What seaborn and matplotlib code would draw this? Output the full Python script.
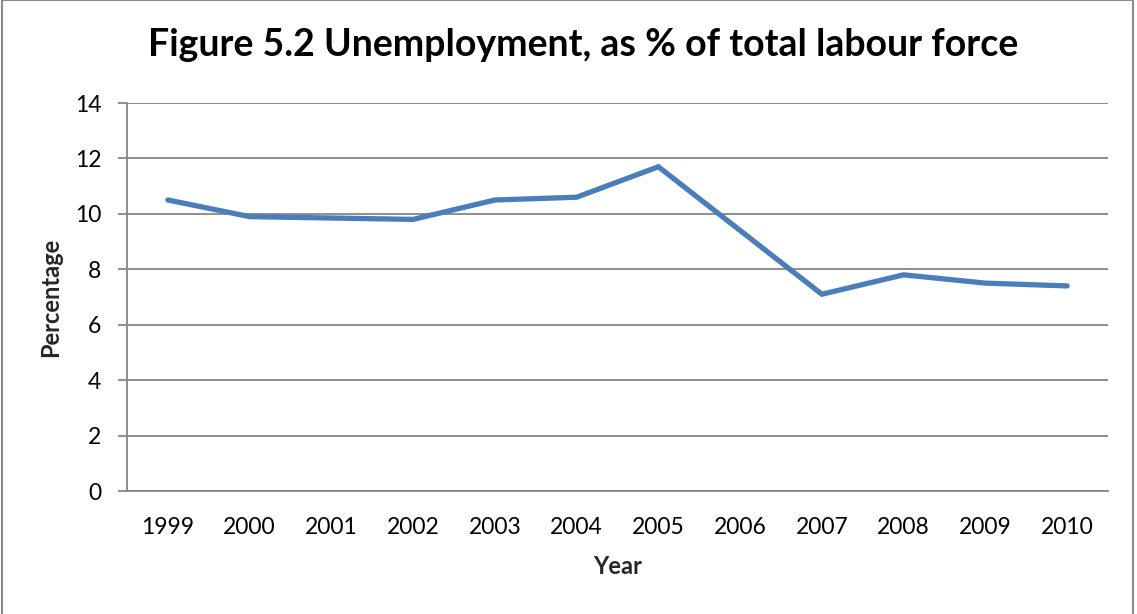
import matplotlib
matplotlib.use("Agg")
import matplotlib.pyplot as plt
from matplotlib.patches import Rectangle
from matplotlib.ticker import FixedLocator
import seaborn as sns
import pandas as pd
import numpy as np

years = ["1999", "2000", "2001", "2002", "2003", "2004",
         "2005", "2006", "2007", "2008", "2009", "2010"]
unemployment = [10.5, 9.9, 9.85, 9.8, 10.5, 10.6, 11.7, 9.4, 7.1, 7.8, 7.5, 7.4]
y_ticks = [0, 2, 4, 6, 8, 10, 12, 14]

sns.set_theme(style="white")
plt.rcParams["font.family"] = ["Lato", "DejaVu Sans"]

W, H = 1137, 614
fig = plt.figure(figsize=(W / 100, H / 100), dpi=100)
fig.patch.set_facecolor("white")

# chart frame
fig.add_artist(Rectangle((2 / W, -0.01), (1133 - 2) / W, 1.01 - 0.5 / H,
                         transform=fig.transFigure, fill=False,
                         edgecolor="#8c8c8c", linewidth=1.5))

left, right, top, bottom = 127, 1108, 103, 491
ax = fig.add_axes([left / W, (H - bottom) / H, (right - left) / W, (bottom - top) / H])

df = pd.DataFrame({"pos": np.arange(len(years)), "value": unemployment})
sns.lineplot(data=df, x="pos", y="value", ax=ax, color="#4A7EBB",
             linewidth=3.8, solid_capstyle="round", solid_joinstyle="miter")

grid_c = "#868686"
ax.set_xlim(-0.5, len(years) - 0.5)
ax.set_ylim(0, 14)
ax.set_yticks(y_ticks)
ax.set_yticklabels([str(v) for v in y_ticks])
ax.yaxis.grid(True, color=grid_c, linewidth=1.3)
ax.set_axisbelow(True)

ax.set_xticks(np.arange(len(years)))
ax.set_xticklabels(years)
ax.xaxis.set_minor_locator(FixedLocator(np.arange(-0.5, len(years), 1.0)))

for side in ["top", "right"]:
    ax.spines[side].set_visible(False)
for side in ["left", "bottom"]:
    ax.spines[side].set_color(grid_c)
    ax.spines[side].set_linewidth(1.3)

ax.tick_params(axis="x", which="major", length=0, pad=19, labelsize=16.5, colors="black")
ax.tick_params(axis="x", which="minor", length=6, width=1.3, color=grid_c, direction="out")
ax.tick_params(axis="y", which="major", length=6.5, width=1.3, color=grid_c,
               direction="out", pad=12, labelsize=16.5, labelcolor="black", left=True)

ax.set_xlabel("Year", fontsize=17, fontweight="bold", labelpad=12)
ax.set_ylabel("Percentage", fontsize=17, fontweight="bold", labelpad=9)

fig.text(583 / W, 1 - 45 / H, "Figure 5.2 Unemployment, as % of total labour force",
         ha="center", va="center", fontsize=27, fontweight="bold", color="black")

fig.savefig("out.png", dpi=100)
